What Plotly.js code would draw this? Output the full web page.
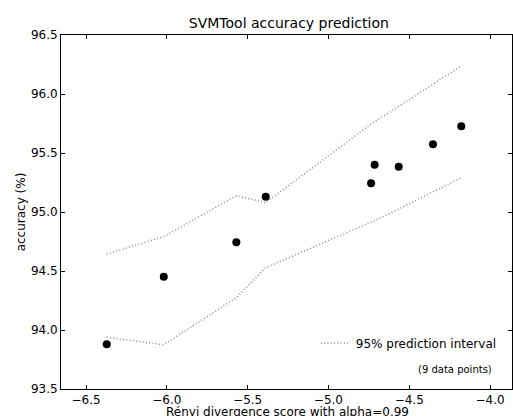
<!DOCTYPE html>
<html>
<head>
<meta charset="utf-8">
<script src="https://cdn.plot.ly/plotly-3.0.1.min.js"></script>
<style>html,body{margin:0;padding:0;background:#fff;}#chart{width:513px;height:416px;}</style>
</head>
<body>
<div id="chart"></div>
<script>
// Data points (Rényi divergence score, accuracy %)
const scoreX = [-6.372, -6.019, -5.570, -5.388, -4.736, -4.714, -4.565, -4.353, -4.178];
const accuracyY = [93.879, 94.452, 94.743, 95.130, 95.243, 95.401, 95.384, 95.574, 95.726];
// 95% prediction interval bounds at each score
const upperBound = [94.644, 94.791, 95.138, 95.079, 95.746, 95.766, 95.895, 96.083, 96.237];
const lowerBound = [93.938, 93.875, 94.274, 94.528, 94.915, 94.926, 95.025, 95.169, 95.291];
const xTicks = [-6.5, -6.0, -5.5, -5.0, -4.5, -4.0];
const yTicks = [93.5, 94.0, 94.5, 95.0, 95.5, 96.0, 96.5];

const font = "DejaVu Sans, sans-serif";
const dotLine = {color: '#8a8a8a', width: 1.5, dash: '1px,2.3px'};

const traces = [
  {x: scoreX, y: upperBound, mode: 'lines', line: dotLine, name: '95% prediction interval', showlegend: true, hoverinfo: 'skip'},
  {x: scoreX, y: lowerBound, mode: 'lines', line: dotLine, showlegend: false, hoverinfo: 'skip'},
  {x: scoreX, y: accuracyY, mode: 'markers', marker: {color: 'black', size: 8}, showlegend: false}
];

const axisCommon = {
  showline: true, linecolor: 'black', linewidth: 1, mirror: 'allticks',
  ticks: 'inside', ticklen: 4, tickcolor: 'black', tickwidth: 1,
  showgrid: false, zeroline: false,
  tickfont: {family: font, size: 12, color: 'black'}
};

const layout = {
  width: 513, height: 416,
  margin: {l: 61, r: 1, t: 35, b: 27},
  paper_bgcolor: 'white', plot_bgcolor: 'white',
  font: {family: font, color: 'black'},
  title: {text: 'SVMTool accuracy prediction', font: {family: font, size: 14, color: 'black'}, x: 0.563, xanchor: 'center', y: 0.944, yanchor: 'middle'},
  xaxis: Object.assign({}, axisCommon, {
    range: [-6.655, -3.864], tickvals: xTicks, ticktext: xTicks.map(v => (v < 0 ? '\u2212' : '') + Math.abs(v).toFixed(1))
  }),
  yaxis: Object.assign({}, axisCommon, {
    range: [93.5, 96.5], tickvals: yTicks, ticktext: yTicks.map(v => v.toFixed(1)),
    title: {text: 'accuracy (%)', font: {family: font, size: 12, color: 'black'}, standoff: 2}
  }),
  legend: {x: 0.565, xanchor: 'left', y: 0.13, yanchor: 'middle', bgcolor: 'rgba(0,0,0,0)', borderwidth: 0, font: {family: font, size: 12, color: 'black'}},
  annotations: [
    {text: 'Rényi divergence score with alpha=0.99', xref: 'paper', yref: 'paper', x: 0.503, y: -0.066, xanchor: 'center', yanchor: 'middle', showarrow: false, font: {family: font, size: 12, color: 'black'}},
    {text: '(9 data points)', xref: 'paper', yref: 'paper', x: 0.96, y: 0.055, xanchor: 'right', yanchor: 'middle', showarrow: false, font: {family: font, size: 10, color: 'black'}}
  ],
  showlegend: true
};

Plotly.newPlot('chart', traces, layout, {displayModeBar: false, staticPlot: true});
</script>
</body>
</html>
